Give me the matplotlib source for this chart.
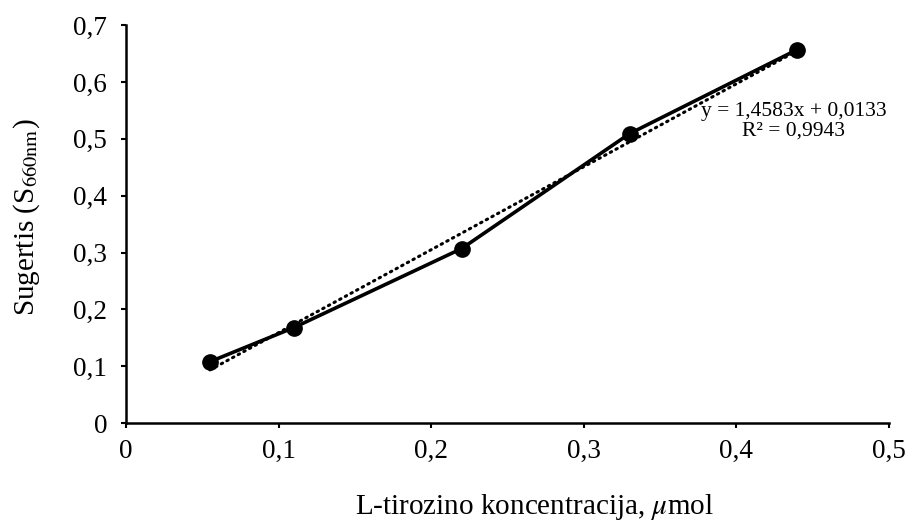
import numpy as np
import matplotlib.pyplot as plt

plt.rcParams['font.family'] = ['Liberation Serif', 'DejaVu Serif']
plt.rcParams['mathtext.fontset'] = 'stix'

# L-tyrosine concentration (umol) vs absorbance at 660 nm
conc = [0.055, 0.11, 0.22, 0.33, 0.44]
absorb = [0.108, 0.168, 0.307, 0.509, 0.657]

slope = 1.4583
intercept = 0.0133
r2 = 0.9943

xticks = [0, 0.1, 0.2, 0.3, 0.4, 0.5]
yticks = [0, 0.1, 0.2, 0.3, 0.4, 0.5, 0.6, 0.7]

fig = plt.figure(figsize=(9.07, 5.23), dpi=100)
ax = fig.add_axes([0.139, 0.191, 0.841, 0.761])

ax.plot(conc, absorb, color='black', lw=2.6, marker='o', ms=11, zorder=3)
fit_x = np.array([conc[0], conc[-1]])
ax.plot(fit_x, slope * fit_x + intercept, color='black', lw=2.2,
        linestyle=(0, (0.5, 1.6)), dash_capstyle='round', zorder=2)

eq = 'y = 1,4583x + 0,0133\nR² = {}'.format(f'{r2:.4f}'.replace('.', ','))
ax.text(0.4378, 0.531, eq, fontsize=15.5, ha='center', va='center',
        linespacing=1.0)

ax.set_xlim(0, 0.5)
ax.set_ylim(0, 0.7)
ax.set_xticks(xticks)
ax.set_yticks(yticks)
fmt = lambda v: '0' if v == 0 else f'{v:.1f}'.replace('.', ',')
ax.set_xticklabels([fmt(v) for v in xticks])
ax.set_yticklabels([fmt(v) for v in yticks])
ax.tick_params(labelsize=19.5, width=1.5, length=3.6, direction='out')
ax.tick_params(axis='y', pad=10)
ax.tick_params(axis='x', pad=8)
for s in ['top', 'right']:
    ax.spines[s].set_visible(False)
for s in ['left', 'bottom']:
    ax.spines[s].set_linewidth(1.8)

ax.set_xlabel('L-tirozino koncentracija, $\\mu$mol', fontsize=21)
ax.set_ylabel('Sugertis (S$_{\\mathrm{660nm}}$)', fontsize=21)
ax.xaxis.set_label_coords(0.535, -0.211)
ax.xaxis.label.set_va('center')
ax.yaxis.set_label_coords(-0.13, 0.5176)
ax.yaxis.label.set_va('center')

fig.savefig('out.png', dpi=100)
